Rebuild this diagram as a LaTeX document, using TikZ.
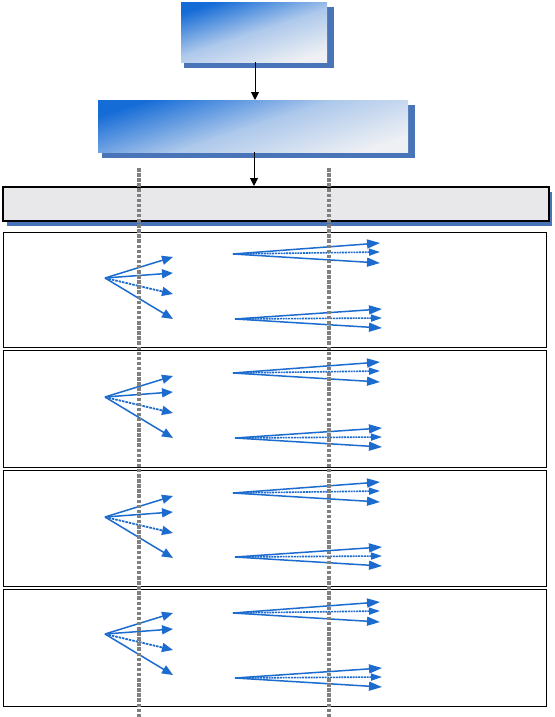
\documentclass[tikz,border=0pt]{standalone}
\usetikzlibrary{arrows.meta}
\definecolor{arrowblue}{RGB}{28,108,208}
\definecolor{shadowblue}{RGB}{74,116,184}
\definecolor{topblue}{RGB}{22,108,215}
\definecolor{pale}{RGB}{238,240,244}
\definecolor{dashgray}{RGB}{128,128,128}
\definecolor{bargray}{RGB}{232,232,234}
\begin{document}
\begin{tikzpicture}[x=1pt,y=-1pt,
  gradbox/.style={draw=none, inner sep=0pt, anchor=north west,
    top color=topblue, bottom color=pale, middle color=topblue!30!pale, shading angle=18},
  shadowbox/.style={fill=shadowblue, draw=none},
  panel/.style={draw=black, line width=1.3pt, fill=white, inner sep=0pt, anchor=north west},
  flow/.style={draw=black, line width=1pt, -{Triangle[length=8pt,width=8pt]}},
  fan/.style={draw=arrowblue, line width=1.5pt, -{Triangle[length=11pt,width=9pt]}},
  fandash/.style={fan, dash pattern=on 2.5pt off 1pt, line width=1.8pt},
  longfan/.style={draw=arrowblue, line width=1.5pt, -{Triangle[length=13pt,width=9pt]}},
  longdot/.style={longfan, dash pattern=on 2pt off 0.8pt, line width=1.6pt, -{Triangle[length=11pt,width=7pt]}},
  guide/.style={draw=dashgray, line width=3.2pt, dash pattern=on 3.5pt off 1.6pt}
]
\useasboundingbox (0,0) rectangle (554,717);

% top box
\fill[shadowbox] (184,7) rectangle (334,68);
\node[gradbox, minimum width=146pt, minimum height=60pt] (b1) at (181,2) {};
% second box
\fill[shadowbox] (102,105) rectangle (415,158);
\node[gradbox, minimum width=310pt, minimum height=52pt] (b2) at (98,100) {};
% wide bar
\fill[shadowbox] (7,192) rectangle (552,226);
\node[draw=black, line width=2.2pt, fill=bargray, inner sep=0pt, anchor=north west,
  minimum width=546pt, minimum height=34pt] (b3) at (2,186) {};

\draw[flow] (b1.south -| 255,0) -- (255,100);
\coordinate (c2) at (254,152);
\coordinate (c3) at (254,186);
\draw[flow] (c2) -- (c3);

% panels
\foreach \t/\b/\L/\U/\D [count=\i] in {232/347/278/254/319, 350/467/397/373/438, 470/586/517/493/557, 589/706/634/613/678}{
  \node[panel, minimum width=543pt, minimum height={\b-\t}] (p\i) at (3,\t) {};
  \coordinate (lo\i) at (105,\L);
  \coordinate (lt\i a) at (173,\L-21);
  \coordinate (lt\i b) at (173,\L-5);
  \coordinate (lt\i c) at (173,\L+16);
  \coordinate (lt\i d) at (173,\L+41);
  \draw[fan] (lo\i) -- (lt\i a);
  \draw[fan] (lo\i) -- (lt\i b);
  \draw[fandash] (lo\i) -- (lt\i c);
  \draw[fan] (lo\i) -- (lt\i d);
  \coordinate (uo\i) at (233,\U);
  \coordinate (ut\i a) at (380,\U-11);
  \coordinate (ut\i b) at (380,\U-2);
  \coordinate (ut\i c) at (380,\U+9);
  \draw[longfan] (uo\i) -- (ut\i a);
  \draw[longdot] (uo\i) -- (ut\i b);
  \draw[longfan] (uo\i) -- (ut\i c);
  \coordinate (do\i) at (235,\D);
  \coordinate (dt\i a) at (382,\D-10);
  \coordinate (dt\i b) at (382,\D-1);
  \coordinate (dt\i c) at (382,\D+9);
  \draw[longfan] (do\i) -- (dt\i a);
  \draw[longdot] (do\i) -- (dt\i b);
  \draw[longfan] (do\i) -- (dt\i c);
}

% guide lines
\coordinate (g1t) at (139,168);
\coordinate (g1b) at (139,717);
\coordinate (g2t) at (329,168);
\coordinate (g2b) at (329,717);
\draw[guide] (g1t) -- (g1b);
\draw[guide] (g2t) -- (g2b);
\end{tikzpicture}
\end{document}
